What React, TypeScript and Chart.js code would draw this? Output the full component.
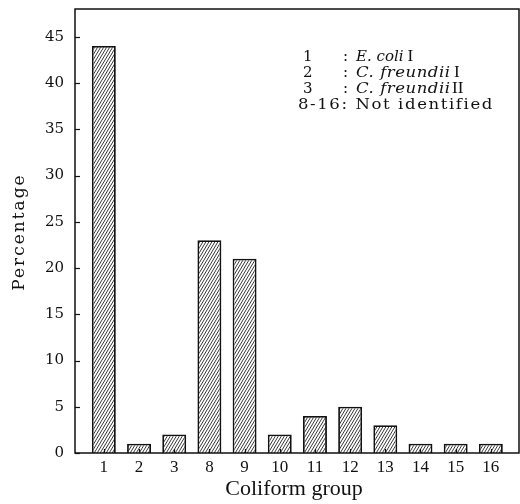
import React, { useEffect, useRef } from "react";
import { Chart, registerables } from "chart.js";

Chart.register(...registerables);

const categories = ["1", "2", "3", "8", "9", "10", "11", "12", "13", "14", "15", "16"];
const percentages = [44, 1, 2, 23, 21, 2, 4, 5, 3, 1, 1, 1];
const yTicks = [0, 5, 10, 15, 20, 25, 30, 35, 40, 45];
const xTitle = "Coliform group";
const yTitle = "Percentage";

function makeHatch(): CanvasPattern | string {
  const w = 3, h = 5;
  const c = document.createElement("canvas");
  c.width = w;
  c.height = h;
  const g = c.getContext("2d");
  if (!g) return "#999";
  g.fillStyle = "#fff";
  g.fillRect(0, 0, w, h);
  g.strokeStyle = "#222";
  g.lineWidth = 0.9;
  for (const dx of [-w, 0, w]) {
    g.beginPath();
    g.moveTo(dx, h);
    g.lineTo(dx + w, 0);
    g.stroke();
  }
  const p = g.createPattern(c, "repeat");
  return p || "#999";
}

const decorPlugin = {
  id: "decor",
  afterDraw(chart: any) {
    const { ctx, chartArea } = chart;
    const { left, right, top, bottom } = chartArea;
    const ys = chart.scales.y;
    const xs = chart.scales.x;
    ctx.save();
    ctx.strokeStyle = "#111";
    ctx.lineWidth = 1.5;
    ctx.strokeRect(left, top, right - left, bottom - top);
    ctx.lineWidth = 1.2;
    for (const v of yTicks) {
      const y = Math.round(ys.getPixelForValue(v)) + 0.5;
      ctx.beginPath();
      ctx.moveTo(left, y);
      ctx.lineTo(left + 5, y);
      ctx.stroke();
    }
    categories.forEach((_, i) => {
      const x = Math.round(xs.getPixelForValue(i + 1)) + 0.5;
      ctx.beginPath();
      ctx.moveTo(x, bottom);
      ctx.lineTo(x, bottom - 4);
      ctx.stroke();
    });

    ctx.fillStyle = "#111";
    ctx.font = "22px 'Liberation Serif'";
    ctx.textAlign = "center";
    ctx.textBaseline = "middle";
    ctx.fillText(xTitle, 294, 489);

    ctx.save();
    ctx.translate(20, 232);
    ctx.rotate(-Math.PI / 2);
    ctx.font = "17px 'DejaVu Serif'";
    (ctx as any).letterSpacing = "2px";
    ctx.fillText(yTitle, 0, 0);
    ctx.restore();

    ctx.textAlign = "left";
    ctx.textBaseline = "middle";
    const num = "15px 'DejaVu Serif'";
    const ital = "italic 15px 'DejaVu Serif'";
    const rn = "17px 'Liberation Serif'";
    const put = (t: string, x: number, y: number, font: string) => {
      ctx.font = font;
      (ctx as any).letterSpacing = "0px";
      ctx.fillText(t, x, y);
      return x + ctx.measureText(t).width;
    };
    const fit = (t: string, x0: number, x1: number, y: number, font: string) => {
      ctx.font = font;
      (ctx as any).letterSpacing = "0px";
      const w = ctx.measureText(t).width;
      const target = x1 - x0;
      if (w >= target) {
        ctx.fillText(t, x0, y);
        return x0 + w;
      }
      const sx = Math.min(1.1, target / w);
      const rest = target - w * sx;
      ctx.save();
      ctx.translate(x0, y);
      ctx.scale(sx, 1);
      if (t.length > 1 && rest > 0) {
        (ctx as any).letterSpacing = rest / (sx * (t.length - 1)) + "px";
      }
      ctx.fillText(t, 0, 0);
      ctx.restore();
      (ctx as any).letterSpacing = "0px";
      return x1;
    };
    const rows = [57, 73, 89, 105];
    put("1", 303, rows[0], num);
    put(":", 343, rows[0], num);
    let e = put("E. coli", 356, rows[0], ital);
    put("I", e + 4, rows[0], rn);

    put("2", 303, rows[1], num);
    put(":", 343, rows[1], num);
    e = fit("C. freundii", 356, 450, rows[1], ital);
    put("I", e + 4, rows[1], rn);

    put("3", 303, rows[2], num);
    put(":", 343, rows[2], num);
    e = fit("C. freundii", 356, 450, rows[2], ital);
    fit("II", e + 2, e + 13, rows[2], rn);

    fit("8-16: Not identified", 298, 492, rows[3], num);
    ctx.restore();
  },
};

export default function App() {
  const ref = useRef<HTMLCanvasElement | null>(null);
  useEffect(() => {
    document.body.style.margin = "0";
    const canvas = ref.current;
    if (!canvas) return;
    const hatch = makeHatch();
    const chart = new Chart(canvas, {
      type: "bar",
      data: {
        datasets: [
          {
            data: percentages.map((v, i) => ({ x: i + 1, y: v })),
            backgroundColor: hatch as any,
            borderColor: "#111",
            borderWidth: 1.8,
            barPercentage: 0.68,
            categoryPercentage: 1,
          },
        ],
      },
      options: {
        responsive: false,
        animation: false,
        layout: { padding: { top: 9, right: 1, left: 0, bottom: 0 } },
        plugins: { legend: { display: false }, tooltip: { enabled: false } },
        scales: {
          x: {
            type: "linear",
            offset: false,
            min: 0.18,
            max: 12.8,
            grid: { display: false, drawTicks: false },
            border: { display: false },
            afterBuildTicks: (s: any) => {
              s.ticks = categories.map((_, i) => ({ value: i + 1 }));
            },
            afterFit: (s: any) => {
              s.height = 51;
              s.paddingLeft = 0;
              s.paddingRight = 0;
            },
            ticks: {
              autoSkip: false,
              maxRotation: 0,
              padding: 4,
              color: "#111",
              font: { family: "'Liberation Serif'", size: 17 },
              callback: (v: any) => categories[Math.round(Number(v)) - 1] ?? "",
            },
          },
          y: {
            min: 0,
            max: 48,
            grid: { display: false, drawTicks: false },
            border: { display: false },
            afterBuildTicks: (s: any) => {
              s.ticks = yTicks.map((v) => ({ value: v }));
            },
            afterFit: (s: any) => {
              s.width = 75;
              s.paddingTop = 0;
              s.paddingBottom = 0;
            },
            ticks: {
              padding: 11,
              color: "#111",
              font: { family: "'DejaVu Serif'", size: 15 },
            },
          },
        },
      },
      plugins: [decorPlugin],
    });
    return () => chart.destroy();
  }, []);
  return (
    <div style={{ width: 520, height: 504 }}>
      <canvas ref={ref} width={520} height={504} />
    </div>
  );
}
